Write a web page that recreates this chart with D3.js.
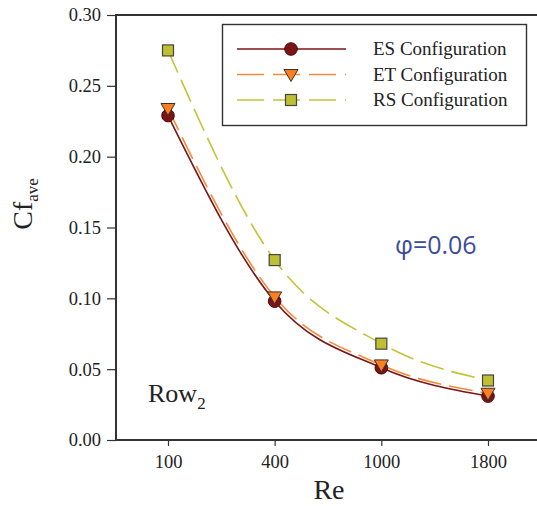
<!DOCTYPE html>
<html>
<head>
<meta charset="utf-8">
<script src="https://cdn.jsdelivr.net/npm/d3@7"></script>
<style>
  body { margin: 0; background: #fff; }
  svg { display: block; }
</style>
</head>
<body>
<div id="chart"></div>
<script>
// data
var reLabels = ["100", "400", "1000", "1800"];
var esValues = [0.229, 0.098, 0.051, 0.031];
var etValues = [0.234, 0.101, 0.053, 0.033];
var rsValues = [0.275, 0.127, 0.068, 0.042];
var yTicks = [0.00, 0.05, 0.10, 0.15, 0.20, 0.25, 0.30];
var seriesNames = ["ES Configuration", "ET Configuration", "RS Configuration"];

var W = 537, H = 506;
var margin = { top: 15, right: -5, bottom: 66, left: 116 };
var width = W - margin.left - margin.right,
    height = H - margin.top - margin.bottom;

var svg = d3.select("#chart").append("svg")
    .attr("width", W)
    .attr("height", H);

var g = svg.append("g")
    .attr("transform", "translate(" + margin.left + "," + margin.top + ")");

var x = d3.scalePoint()
    .domain(reLabels)
    .range([52, 372]);

var y = d3.scaleLinear()
    .domain([0, 0.30])
    .range([height, 0]);

var serif = "Liberation Serif, Times New Roman, serif";

// axes
var xAxis = g.append("g")
    .attr("transform", "translate(0," + height + ")")
    .call(d3.axisBottom(x).tickSize(6).tickSizeOuter(0).tickPadding(9));

var yAxis = g.append("g")
    .call(d3.axisLeft(y).tickValues(yTicks).tickFormat(d3.format(".2f")).tickSize(9).tickSizeOuter(0).tickPadding(6));

[xAxis, yAxis].forEach(function (a) {
    a.attr("font-family", serif).attr("font-size", 18.5);
    a.selectAll("text").attr("fill", "#222");
    a.selectAll("line").attr("stroke", "#333").attr("stroke-width", 1.2);
    a.select(".domain").attr("stroke", "none");
});

// frame (left, top, bottom)
g.append("path")
    .attr("d", "M" + (width + 10) + ",0H0V" + height + "H" + (width + 10))
    .attr("fill", "none")
    .attr("stroke", "#333")
    .attr("stroke-width", 2);

// lines
var series = [
    { name: seriesNames[0], values: esValues, color: "#7b1416", dash: null, marker: "circle", fill: "#7b1416" },
    { name: seriesNames[1], values: etValues, color: "#f58a3a", dash: "24,8", marker: "triangle", fill: "#ff7f1e" },
    { name: seriesNames[2], values: rsValues, color: "#c2c43a", dash: "24,8", marker: "square", fill: "#bfc031" }
];

var line = d3.line()
    .x(function (d, i) { return x(reLabels[i]); })
    .y(function (d) { return y(d); })
    .curve(d3.curveMonotoneX);

series.forEach(function (s) {
    g.append("path")
        .datum(s.values)
        .attr("d", line)
        .attr("fill", "none")
        .attr("stroke", s.color)
        .attr("stroke-width", 1.6)
        .attr("stroke-dasharray", s.dash);
});

function drawMarker(sel, type, fill) {
    if (type === "circle") {
        sel.append("circle").attr("r", 6.3)
            .attr("fill", fill).attr("stroke", "#4a0a0a").attr("stroke-width", 1);
    } else if (type === "triangle") {
        sel.append("path").attr("d", "M-7,-5L7,-5L0,7Z")
            .attr("fill", fill).attr("stroke", "#333").attr("stroke-width", 1);
    } else {
        sel.append("rect").attr("x", -5.5).attr("y", -5.5).attr("width", 11).attr("height", 11)
            .attr("fill", fill).attr("stroke", "#444").attr("stroke-width", 1.2);
    }
}

series.forEach(function (s) {
    s.values.forEach(function (v, i) {
        var m = g.append("g")
            .attr("transform", "translate(" + x(reLabels[i]) + "," + y(v) + ")");
        drawMarker(m, s.marker, s.fill);
    });
});

// legend
var legend = svg.append("g");
legend.append("rect")
    .attr("x", 222.5).attr("y", 24.5)
    .attr("width", 304).attr("height", 101)
    .attr("fill", "#fff").attr("stroke", "#333").attr("stroke-width", 1.4);

series.forEach(function (s, i) {
    var ly = 49 + i * 25.5;
    legend.append("line")
        .attr("x1", 237).attr("x2", 346)
        .attr("y1", ly).attr("y2", ly)
        .attr("stroke", s.color).attr("stroke-width", 1.6)
        .attr("stroke-dasharray", s.dash ? "27,9" : null);
    var m = legend.append("g").attr("transform", "translate(291," + ly + ")");
    drawMarker(m, s.marker, s.fill);
    legend.append("text")
        .attr("x", 373).attr("y", ly + 6)
        .attr("font-family", serif).attr("font-size", 19)
        .attr("fill", "#222")
        .text(s.name);
});

// axis titles
svg.append("text")
    .attr("x", 329).attr("y", 499)
    .attr("text-anchor", "middle")
    .attr("font-family", serif).attr("font-size", 28)
    .attr("fill", "#222")
    .text("Re");

var yt = svg.append("text")
    .attr("transform", "translate(32,204) rotate(-90)")
    .attr("text-anchor", "middle")
    .attr("font-family", serif).attr("font-size", 28)
    .attr("fill", "#222");
yt.append("tspan").text("Cf");
yt.append("tspan").attr("dy", 6).attr("font-size", 17).text("ave");

// annotations
svg.append("text")
    .attr("x", 395).attr("y", 254)
    .attr("font-family", "Open Sans, DejaVu Sans, sans-serif").attr("font-size", 25)
    .attr("fill", "#3b4c9c")
    .text("φ=0.06");

var rowText = svg.append("text")
    .attr("x", 148).attr("y", 402)
    .attr("font-family", serif).attr("font-size", 26)
    .attr("fill", "#222");
rowText.append("tspan").text("Row");
rowText.append("tspan").attr("dy", 7).attr("font-size", 17).text("2");
</script>
</body>
</html>
